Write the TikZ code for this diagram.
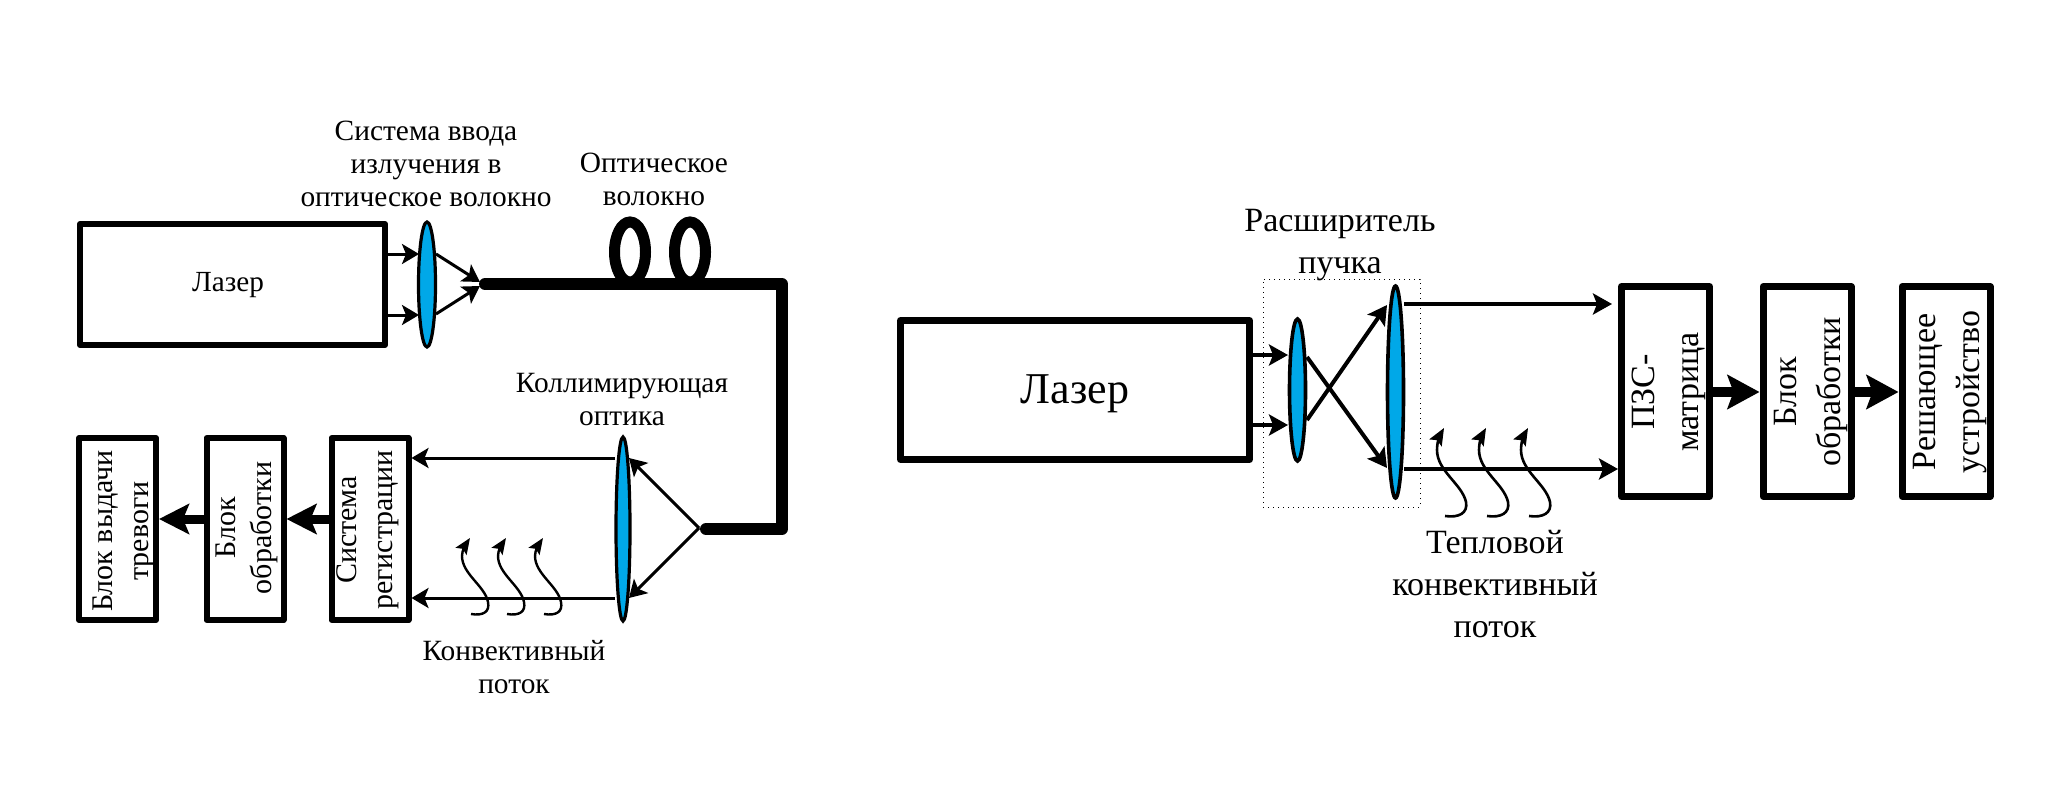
\documentclass[tikz,border=0pt]{standalone}
\usepackage{fontspec}
\setmainfont{Liberation Serif}
\usetikzlibrary{arrows.meta,shapes.geometric}
\definecolor{lensblue}{RGB}{0,168,232}
\tikzset{
  x=0.5pt,y=-0.5pt,
  frame/.style={draw=black,line width=3pt,line join=round,inner sep=0pt,fill=white},
  framewide/.style={frame,line width=3.5pt},
  lens/.style={ellipse,draw=black,fill=lensblue,line width=1.6pt,inner sep=0pt},
  ray/.style={draw=black,line width=1.5pt,-{Stealth[length=8.5pt,width=10pt,inset=2pt]}},
  raywide/.style={draw=black,line width=2pt,-{Stealth[length=9.5pt,width=10.5pt,inset=2pt]}},
  flow/.style={draw=black,line width=4.5pt,-{Stealth[length=15pt,width=15pt,inset=3pt]}},
  flowwide/.style={draw=black,line width=5pt,-{Stealth[length=16pt,width=17pt,inset=3pt]}},
  fibre/.style={draw=black,line width=6pt,line cap=round,line join=round},
  coil/.style={draw=black,line width=5.5pt},
  lab/.style={align=center,inner sep=0pt,font=\fontsize{14.7}{16.5}\selectfont},
  labwide/.style={align=center,inner sep=0pt,font=\fontsize{17}{21}\selectfont},
  vlab/.style={rotate=90,align=center,inner sep=0pt,font=\fontsize{15}{18}\selectfont},
  vlabwide/.style={rotate=90,align=center,inner sep=0pt,font=\fontsize{17}{22}\selectfont},
  swirl/.pic={\draw[draw=black,line width=1.2pt,-{Stealth[length=8pt,width=6.5pt,inset=1.5pt]}]
    (0,0) .. controls (12,2) and (19,-2) .. (17,-12)
          .. controls (14,-28) and (-9,-40) .. (-9,-58)
          .. controls (-9,-64) and (-5,-70) .. (-1,-76);},
  swirlwide/.pic={\draw[draw=black,line width=1.3pt,-{Stealth[length=8.5pt,width=7pt,inset=1.5pt]}]
    (0,0) .. controls (14,2) and (23,-3) .. (21,-14)
          .. controls (17,-32) and (-8,-45) .. (-8,-66)
          .. controls (-8,-74) and (-5,-81) .. (-1,-88);},
}
\begin{document}
\begin{tikzpicture}
\useasboundingbox (0,0) rectangle (2054,802);

% ---- fibre-optic scheme ----
\node[frame,minimum width=152.5pt,minimum height=60.5pt] (laserA) at (232.5,284.5) {};
\node[inner sep=0pt,font=\fontsize{14.6}{18}\selectfont] at (228,285.5) {Лазер};
\node[lens,minimum width=8.5pt,minimum height=62.5pt] (inLens) at (427,284.5) {};
\coordinate (inU) at (419,254);
\coordinate (inL) at (419,315);
\coordinate (inUo) at (436,254);
\coordinate (inLo) at (436,314);
\coordinate (fibreIn) at (485,284);
\coordinate (focusIn) at (480,282);
\coordinate (focusInL) at (480,286);
\coordinate (fibreBendA) at (782,284);
\coordinate (fibreBendB) at (782,529);
\coordinate (fibreOut) at (706,529);
\coordinate (focusOut) at (699,528);

\draw[ray] (laserA.east |- inU) -- (inU);
\draw[ray] (laserA.east |- inL) -- (inL);
\draw[ray] (inUo) -- (focusIn);
\draw[ray] (inLo) -- (focusInL);

\draw[coil] (630,252) ellipse [x radius=15.5,y radius=30];
\draw[coil] (690,252) ellipse [x radius=15.5,y radius=30];
\draw[fibre] (fibreIn) -- (fibreBendA) -- (fibreBendB) -- (fibreOut);

\node[frame,minimum width=38.5pt,minimum height=91pt] (alarm) at (117.5,529) {};
\node[frame,minimum width=38.5pt,minimum height=91pt] (procA) at (245,529) {};
\node[frame,minimum width=38.5pt,minimum height=91pt] (reg) at (370,529) {};
\node[vlab] at (124,531) {Блок выдачи\\тревоги};
\node[vlab] at (247,528) {Блок\\обработки};
\node[vlab] at (368,530) {Система\\регистрации};

\node[lens,minimum width=7pt,minimum height=92pt] (colLens) at (623,529) {};
\coordinate (colU) at (615,458);
\coordinate (colL) at (615,598);
\coordinate (colUr) at (629,458);
\coordinate (colLr) at (629,598);
\draw[ray] (focusOut) -- (colUr);
\draw[ray] (focusOut) -- (colLr);
\draw[ray] (colU) -- (reg.east |- colU);
\draw[ray] (colL) -- (reg.east |- colL);

\draw[flow] (reg.west |- 0,519) -- (procA.east |- 0,519);
\draw[flow] (procA.west |- 0,519) -- (alarm.east |- 0,519);

\pic at (471,614) {swirl};
\pic at (507,614) {swirl};
\pic at (544,614) {swirl};

\node[lab] at (426,164) {Система ввода\\излучения в\\оптическое волокно};
\node[lab] at (654,179.5) {Оптическое\\волокно};
\node[lab] at (622,400) {Коллимирующая\\оптика};
\node[lab] at (514,667) {Конвективный\\поток};

% ---- free-beam scheme ----
\node[draw=black,dotted,line width=0.5pt,minimum width=78.5pt,minimum height=114pt,inner sep=0pt] (expander) at (1341.5,393) {};
\node[framewide,minimum width=174.5pt,minimum height=69.5pt,fill=none] (laserB) at (1075,390) {};
\node[inner sep=0pt,font=\fontsize{22}{26}\selectfont] at (1075,394) {Лазер};
\node[lens,minimum width=8pt,minimum height=71pt,line width=1.8pt] (lensS) at (1297.5,390) {};
\node[lens,minimum width=8pt,minimum height=106pt,line width=1.8pt] (lensB) at (1395.5,392) {};
\coordinate (bU) at (1288,355);
\coordinate (bL) at (1288,425);
\coordinate (crossUs) at (1307,357);
\coordinate (crossLs) at (1307,420);
\coordinate (crossUe) at (1387,468);
\coordinate (crossLe) at (1387,305);
\coordinate (outU) at (1404,304);
\coordinate (outL) at (1404,469);
\coordinate (outUe) at (1612,304);
\draw[raywide] (laserB.east |- bU) -- (bU);
\draw[raywide] (laserB.east |- bL) -- (bL);
\draw[raywide] (crossUs) -- (crossUe);
\draw[raywide] (crossLs) -- (crossLe);

\node[framewide,minimum width=44pt,minimum height=105pt] (ccd) at (1665.5,391.5) {};
\node[framewide,minimum width=44pt,minimum height=105pt] (procB) at (1807,391.5) {};
\node[framewide,minimum width=44pt,minimum height=105pt] (decide) at (1946,391.5) {};
\draw[raywide] (outU) -- (outUe);
\draw[raywide] (outL) -- (ccd.west |- outL);
\draw[flowwide] (ccd.east |- 0,392) -- (procB.west |- 0,392);
\draw[flowwide] (procB.east |- 0,392) -- (decide.west |- 0,392);

\node[vlabwide] at (1669,392) {ПЗС-\\матрица};
\node[vlabwide] at (1811,392) {Блок\\обработки};
\node[vlabwide] at (1950,392) {Решающее\\устройство};

\pic at (1445,516) {swirlwide};
\pic at (1487,516) {swirlwide};
\pic at (1529,516) {swirlwide};

\node[labwide] at (1340,245) {Расширитель\\пучка};
\node[labwide] at (1495,584) {Тепловой\\конвективный\\поток};
\end{tikzpicture}
\end{document}
